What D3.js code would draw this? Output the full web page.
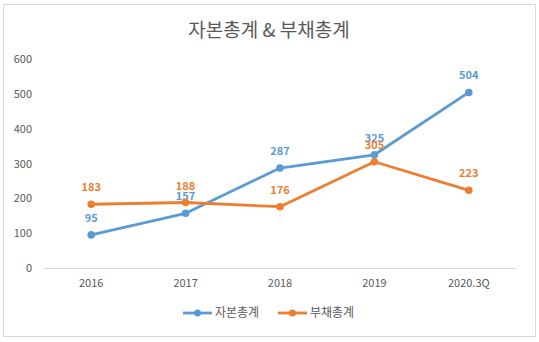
<!DOCTYPE html>
<html><head><meta charset="utf-8">
<script src="https://cdn.jsdelivr.net/npm/d3@7"></script>
<style>body{margin:0;background:#fff}svg{display:block}</style>
</head><body>
<script>
const categories = ["2016","2017","2018","2019","2020.3Q"];
const equity = [95,157,287,325,504];
const debt = [183,188,176,305,223];
const yTicks = [0,100,200,300,400,500,600];
const seriesNames = ["자본총계","부채총계"];
const colors = ["#5B9BD5","#ED7D31"];

const W=539,H=342;
const svg=d3.select("body").append("svg").attr("width",W).attr("height",H);
const font="'Malgun Gothic','Noto Sans CJK KR','Noto Sans',sans-serif";
svg.append("rect").attr("x",3.5).attr("y",4.5).attr("width",532).attr("height",332)
  .attr("fill","#fff").attr("stroke","#d9d9d9");
svg.append("text").attr("x",269).attr("y",37).attr("text-anchor","middle")
  .attr("font-family",font).attr("font-size",19).attr("fill","#595959").text("자본총계 & 부채총계");

const x=d3.scaleBand().domain(categories).range([44,516]);
const y=d3.scaleLinear().domain([0,600]).range([268,59]);

const yAxis=svg.append("g").attr("transform","translate(32,0)")
  .call(d3.axisLeft(y).tickValues(yTicks).tickSize(0).tickPadding(0));
yAxis.select(".domain").remove();
yAxis.selectAll("text").attr("font-family",font).attr("font-size",11).attr("fill","#595959");

svg.append("line").attr("x1",44).attr("x2",517).attr("y1",268.5).attr("y2",268.5).attr("stroke","#d9d9d9");
const xAxis=svg.append("g").attr("transform","translate(0,277)")
  .call(d3.axisBottom(x).tickSize(0).tickPadding(0));
xAxis.select(".domain").remove();
xAxis.selectAll("text").attr("font-family",font).attr("font-size",11).attr("fill","#595959").attr("dy","0.9em");

const cx=d=>x(d)+x.bandwidth()/2;
[equity,debt].forEach((vals,i)=>{
  const data=categories.map((c,j)=>({c,v:vals[j]}));
  svg.append("path").datum(data).attr("fill","none").attr("stroke",colors[i]).attr("stroke-width",2.8)
    .attr("stroke-linejoin","round").attr("stroke-linecap","round")
    .attr("d",d3.line().x(d=>cx(d.c)).y(d=>y(d.v)));
  svg.selectAll(null).data(data).enter().append("circle").attr("cx",d=>cx(d.c)).attr("cy",d=>y(d.v))
    .attr("r",3.8).attr("fill",colors[i]);
  svg.selectAll(null).data(data).enter().append("text").attr("x",d=>cx(d.c)).attr("y",d=>y(d.v)-13)
    .attr("text-anchor","middle").attr("font-family",font).attr("font-size",11).attr("font-weight","bold")
    .attr("fill",colors[i]).text(d=>d.v);
});

const leg=[{x:183,tx:215},{x:278,tx:310}];
leg.forEach((l,i)=>{
  svg.append("line").attr("x1",l.x).attr("x2",l.x+29).attr("y1",313).attr("y2",313)
    .attr("stroke",colors[i]).attr("stroke-width",2.8);
  svg.append("circle").attr("cx",l.x+14.5).attr("cy",313).attr("r",3.5).attr("fill",colors[i]);
  svg.append("text").attr("x",l.tx).attr("y",317).attr("font-family",font).attr("font-size",12)
    .attr("fill","#595959").text(seriesNames[i]);
});
</script>
</body></html>
